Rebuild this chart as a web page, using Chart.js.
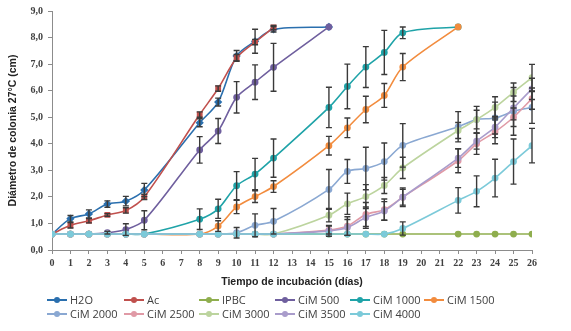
<!DOCTYPE html>
<html>
<head>
<meta charset="utf-8">
<script src="https://cdn.jsdelivr.net/npm/chart.js@4.4.1/dist/chart.umd.min.js"></script>
<style>
  html, body { margin: 0; padding: 0; background: #fff; }
  #wrap { position: relative; width: 571px; height: 331px; }
  #legend { position: absolute; left: 0; top: 0; width: 571px; height: 331px; pointer-events: none;
            font-family: "Open Sans", sans-serif; font-size: 11px; color: #404040; }
  .item { position: absolute; height: 14px; line-height: 14px; white-space: nowrap; }
  .mk { position: absolute; left: 0; top: 6px; width: 20px; height: 2px; }
  .dot { position: absolute; left: 7px; top: -2px; width: 6px; height: 6px; border-radius: 50%; }
  .txt { position: absolute; left: 23px; top: 0; }
</style>
</head>
<body>
<div id="wrap">
  <canvas id="chart" width="571" height="331"></canvas>
  <div id="legend"></div>
</div>
<script>
"use strict";

// días de medición
const days = [0, 1, 2, 3, 4, 5, 8, 9, 10, 11, 12, 15, 16, 17, 18, 19, 22, 23, 24, 25, 26];

const seriesNames = ['H2O', 'Ac', 'IPBC', 'CiM 500', 'CiM 1000', 'CiM 1500',
                     'CiM 2000', 'CiM 2500', 'CiM 3000', 'CiM 3500', 'CiM 4000'];

const seriesColors = ['#2a6fae', '#c0504d', '#8fae4e', '#6f5f9e', '#1fa3a8', '#f28c3e',
                      '#8aa8d2', '#e09aa6', '#bcd49e', '#a99ccb', '#7ccad9'];

// diámetros (cm), alineados con days
const h2o     = [0.6, 1.18, 1.36, 1.73, 1.84, 2.26, 4.79, 5.57, 7.31, 7.86, 8.31, 8.40, null, null, null, null, null, null, null, null, null];
const ac      = [0.6, 0.93, 1.10, 1.32, 1.49, 2.00, 5.10, 6.08, 7.24, 7.83, 8.38, null, null, null, null, null, null, null, null, null, null];
const ipbc    = [0.6, 0.6, 0.6, 0.6, 0.6, 0.6, 0.6, 0.6, 0.6, 0.6, 0.6, 0.6, 0.6, 0.6, 0.6, 0.6, 0.6, 0.6, 0.6, 0.6, 0.6];
const cim500  = [0.6, 0.6, 0.6, 0.65, 0.77, 1.12, 3.77, 4.48, 5.75, 6.32, 6.88, 8.40, null, null, null, null, null, null, null, null, null];
const cim1000 = [0.6, 0.6, 0.6, 0.6, 0.6, 0.6, 1.16, 1.55, 2.42, 2.86, 3.46, 5.37, 6.16, 6.89, 7.44, 8.18, 8.40, null, null, null, null];
const cim1500 = [0.6, 0.6, 0.6, 0.6, 0.6, 0.6, 0.6, 0.90, 1.62, 2.01, 2.39, 3.93, 4.60, 5.29, 5.82, 6.89, 8.40, null, null, null, null];
const cim2000 = [0.6, 0.6, 0.6, 0.6, 0.6, 0.6, 0.6, 0.6, 0.65, 0.93, 1.08, 2.28, 2.96, 3.07, 3.33, 3.94, 4.64, 4.91, 4.97, 5.22, 5.37];
const cim2500 = [0.6, 0.6, 0.6, 0.6, 0.6, 0.6, 0.6, 0.6, 0.6, 0.6, 0.6, 0.75, 0.90, 1.34, 1.52, 1.99, 3.36, 4.00, 4.45, 5.00, 5.70];
const cim3000 = [0.6, 0.6, 0.6, 0.6, 0.6, 0.6, 0.6, 0.6, 0.6, 0.6, 0.6, 1.31, 1.74, 2.01, 2.43, 3.09, 4.50, 4.91, 5.37, 5.94, 6.49];
const cim3500 = [0.6, 0.6, 0.6, 0.6, 0.6, 0.6, 0.6, 0.6, 0.6, 0.6, 0.6, 0.72, 0.85, 1.22, 1.47, 1.99, 3.46, 4.10, 4.63, 5.35, 6.07];
const cim4000 = [0.6, 0.6, 0.6, 0.6, 0.6, 0.6, 0.6, 0.6, 0.6, 0.6, 0.6, 0.6, 0.6, 0.6, 0.6, 0.81, 1.87, 2.21, 2.71, 3.33, 3.93];

// desviación (± cm)
const h2oErr     = [0, 0.12, 0.15, 0.12, 0.18, 0.25, 0.15, 0.15, 0.2, 0.45, 0.1, 0, 0, 0, 0, 0, 0, 0, 0, 0, 0];
const acErr      = [0, 0.1, 0.08, 0.05, 0.1, 0.1, 0.1, 0.1, 0.12, 0.1, 0.08, 0, 0, 0, 0, 0, 0, 0, 0, 0, 0];
const ipbcErr    = [0, 0, 0, 0, 0, 0, 0, 0, 0, 0, 0, 0, 0, 0, 0, 0, 0, 0, 0, 0, 0];
const cim500Err  = [0, 0, 0, 0.05, 0.22, 0.36, 0.5, 0.47, 0.59, 0.65, 0.9, 0, 0, 0, 0, 0, 0, 0, 0, 0, 0];
const cim1000Err = [0, 0, 0, 0, 0, 0, 0.39, 0.36, 0.53, 0.59, 0.72, 0.76, 0.84, 0.77, 0.83, 0.22, 0, 0, 0, 0, 0];
const cim1500Err = [0, 0, 0, 0, 0, 0, 0, 0.2, 0.25, 0.22, 0.22, 0.35, 0.37, 0.5, 0.45, 0.51, 0, 0, 0, 0, 0];
const cim2000Err = [0, 0, 0, 0, 0, 0, 0, 0, 0.2, 0.43, 0.48, 0.75, 0.45, 0.8, 0.7, 0.82, 0.57, 0.5, 0.6, 0.9, 0.6];
const cim2500Err = [0, 0, 0, 0, 0, 0, 0, 0, 0, 0, 0, 0.15, 0.35, 0.45, 0.4, 0.3, 0.45, 0.4, 0.45, 0.35, 0.4];
const cim3000Err = [0, 0, 0, 0, 0, 0, 0, 0, 0, 0, 0, 0.25, 0.4, 0.45, 0.3, 0.4, 0.3, 0.35, 0.4, 0.35, 0.5];
const cim3500Err = [0, 0, 0, 0, 0, 0, 0, 0, 0, 0, 0, 0.2, 0.3, 0.4, 0.35, 0.35, 0.35, 0.3, 0.4, 0.45, 0.4];
const cim4000Err = [0, 0, 0, 0, 0, 0, 0, 0, 0, 0, 0, 0, 0, 0, 0, 0.25, 0.48, 0.58, 0.71, 0.85, 0.65];

const seriesValues = [h2o, ac, ipbc, cim500, cim1000, cim1500, cim2000, cim2500, cim3000, cim3500, cim4000];
const seriesErrors = [h2oErr, acErr, ipbcErr, cim500Err, cim1000Err, cim1500Err,
                      cim2000Err, cim2500Err, cim3000Err, cim3500Err, cim4000Err];

// Barras de error dibujadas encima de las líneas
const errorBars = {
    id: 'errorBars',
    afterDatasetsDraw(chart) {
        const { ctx, scales: { x, y } } = chart;
        ctx.save();
        ctx.strokeStyle = '#3a3a3a';
        ctx.lineWidth = 1.4;
        chart.data.datasets.forEach(ds => {
            ds.data.forEach((p, i) => {
                const e = ds.errors[i];
                if (!e) return;
                const px = x.getPixelForValue(p.x);
                const top = y.getPixelForValue(p.y + e);
                const bot = y.getPixelForValue(p.y - e);
                ctx.beginPath();
                ctx.moveTo(px, top); ctx.lineTo(px, bot);
                ctx.moveTo(px - 3, top); ctx.lineTo(px + 3, top);
                ctx.moveTo(px - 3, bot); ctx.lineTo(px + 3, bot);
                ctx.stroke();
            });
        });
        ctx.restore();
    }
};

const datasets = seriesNames.map((name, s) => {
    const pts = [], errs = [];
    days.forEach((d, i) => {
        const v = seriesValues[s][i];
        if (v === null) return;
        pts.push({ x: d, y: v });
        errs.push(seriesErrors[s][i]);
    });
    return {
        label: name,
        data: pts,
        errors: errs,
        borderColor: seriesColors[s],
        backgroundColor: seriesColors[s],
        borderWidth: 1.6,
        pointRadius: s < 2 ? 3 : 2.6,
        pointStyle: s === 0 ? 'rectRot' : (s === 1 ? 'rect' : 'circle'),
        tension: 0.3,
        order: seriesNames.length - s // Excel: la última serie encima
    };
});

const tickFont = { family: '"Liberation Serif", serif', size: 10, weight: 'bold' };
const titleFont = { family: '"Liberation Sans", sans-serif', size: 10.5, weight: 'bold' };

new Chart(document.getElementById('chart'), {
    type: 'line',
    data: { datasets: datasets },
    options: {
        responsive: false,
        animation: false,
        layout: { padding: { left: 0, right: 39, top: 9, bottom: 41 } },
        plugins: { legend: { display: false }, tooltip: { enabled: false } },
        scales: {
            x: {
                type: 'linear', min: 0, max: 26,
                afterFit: s => { s.height = 40; },
                ticks: { stepSize: 1, autoSkip: false, maxRotation: 0, padding: 3, color: '#404040', font: tickFont },
                grid: { drawOnChartArea: false, tickLength: 4, color: '#8c8c8c' },
                border: { color: '#8c8c8c' },
                title: { display: true, text: 'Tiempo de incubación (días)', color: '#222', font: titleFont, padding: { top: 6, bottom: 2 } }
            },
            y: {
                min: 0, max: 9,
                afterFit: s => { s.width = 52; },
                ticks: { stepSize: 1, padding: 5, color: '#404040', font: tickFont,
                         callback: v => v.toFixed(1).replace('.', ',') },
                grid: { drawOnChartArea: false, tickLength: 4, color: '#8c8c8c' },
                border: { color: '#8c8c8c' },
                title: { display: true, text: 'Diámetro de colonia 27°C (cm)', color: '#222', font: titleFont, padding: { top: 7, bottom: 0 } }
            }
        }
    },
    plugins: [errorBars]
});

// Leyenda en columnas fijas, como en Excel
const legendCols = [47, 124, 199, 275, 350, 424];
const legendRows = [293, 307];
const legend = document.getElementById('legend');
seriesNames.forEach((name, i) => {
    const item = document.createElement('div');
    item.className = 'item';
    item.style.left = legendCols[i % 6] + 'px';
    item.style.top = legendRows[Math.floor(i / 6)] + 'px';
    item.innerHTML = '<span class="mk" style="background:' + seriesColors[i] + '">' +
        '<span class="dot" style="background:' + seriesColors[i] + '"></span></span>' +
        '<span class="txt"></span>';
    item.querySelector('.txt').textContent = name;
    legend.appendChild(item);
});
</script>
</body>
</html>
